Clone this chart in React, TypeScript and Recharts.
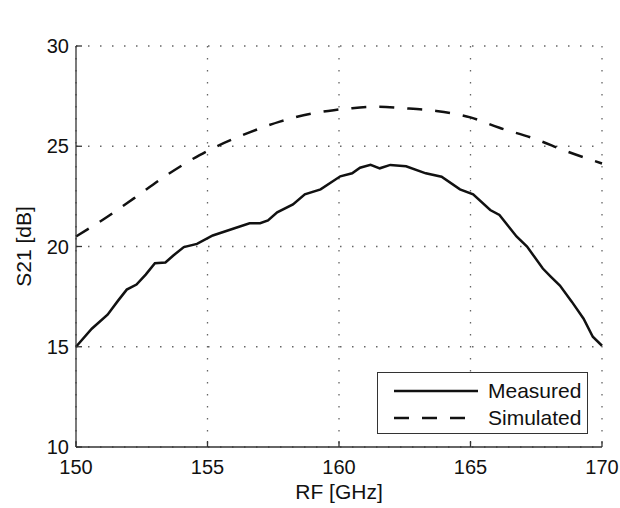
import { LineChart, Line, XAxis, YAxis, CartesianGrid, Legend, Label } from "recharts";

const xTicks = [150, 155, 160, 165, 170];
const yTicks = [10, 15, 20, 25, 30];

const measuredFreq = [
  150.0, 150.6, 151.2, 151.6, 151.93, 152.3, 152.65, 153.0, 153.4, 153.7, 154.1, 154.6, 155.2, 156.0,
  156.6, 157.0, 157.3, 157.65, 158.25, 158.7, 159.3, 160.05, 160.5, 160.8, 161.2, 161.55, 161.95,
  162.55, 163.3, 163.9, 164.6, 165.1, 165.75, 166.1, 166.75, 167.15, 167.75, 168.05, 168.4, 168.85,
  169.3, 169.65, 170.0,
];
const measuredGain = [
  15.0, 15.9, 16.6, 17.3, 17.85, 18.1, 18.6, 19.17, 19.2, 19.55, 19.97, 20.13, 20.55, 20.9,
  21.16, 21.16, 21.3, 21.7, 22.1, 22.6, 22.85, 23.5, 23.65, 23.93, 24.07, 23.9, 24.07,
  24.0, 23.65, 23.48, 22.85, 22.6, 21.82, 21.57, 20.5, 20.0, 18.9, 18.5, 18.05, 17.25,
  16.4, 15.5, 15.05,
];

const simFreq = [150.0, 151.05, 152.2, 153.45, 154.7, 155.2, 156.5, 157.75, 159.0, 159.8, 160.5, 161.5, 162.45, 163.7, 165.0, 166.1, 167.4, 168.65, 170.0];
const simGain = [20.5, 21.36, 22.4, 23.56, 24.56, 24.9, 25.64, 26.23, 26.64, 26.8, 26.9, 26.97, 26.9, 26.76, 26.44, 25.92, 25.39, 24.75, 24.14];

const measured = measuredFreq.map((freq, i) => ({ freq, gain: measuredGain[i] }));
const simulated = simFreq.map((freq, i) => ({ freq, gain: simGain[i] }));

const font = "'Liberation Sans', Arial, Helvetica, sans-serif";
const axisColor = "#333";

function LegendBox({ payload }: any) {
  return (
    <div
      style={{
        border: `1.5px solid ${axisColor}`,
        background: "#fff",
        width: "100%",
        height: "100%",
        boxSizing: "border-box",
        padding: "4px 0 0 16px",
        fontFamily: font,
        fontSize: 21,
        color: "#111",
      }}
    >
      {(payload || []).map((entry: any) => (
        <div key={entry.value} style={{ display: "flex", alignItems: "center", height: 27 }}>
          <svg width={94} height={10}>
            <line
              x1={0}
              y1={5}
              x2={84}
              y2={5}
              stroke="#111"
              strokeWidth={2.5}
              strokeDasharray={entry.payload?.strokeDasharray}
            />
          </svg>
          <span>{entry.value}</span>
        </div>
      ))}
    </div>
  );
}

export default function App() {
  return (
    <div style={{ position: "absolute", left: 0, top: 0, background: "#fff" }}>
      <LineChart width={620} height={508} margin={{ top: 46, right: 18, bottom: 9, left: 0 }}>
        <CartesianGrid stroke="#666" strokeWidth={1.3} strokeDasharray="1.5 10.5" />
        <XAxis
          dataKey="freq"
          type="number"
          domain={[150, 170]}
          ticks={xTicks}
          height={52}
          stroke={axisColor}
          strokeWidth={1.3}
          tickSize={-6}
          tickMargin={19}
          tick={{ fill: "#111", fontSize: 20, fontFamily: font }}
        >
          <Label value="RF [GHz]" position="insideBottom" offset={0} style={{ fill: "#111", fontSize: 21, fontFamily: font }} />
        </XAxis>
        <XAxis
          xAxisId="top"
          orientation="top"
          type="number"
          domain={[150, 170]}
          ticks={xTicks}
          height={0}
          stroke={axisColor}
          strokeWidth={1.3}
          tickSize={-6}
          tick={false}
        >
          <Label value="LNA Gain" position="top" offset={17} style={{ fill: "#111", fontSize: 21, fontFamily: font }} />
        </XAxis>
        <YAxis
          type="number"
          domain={[10, 30]}
          ticks={yTicks}
          width={76}
          stroke={axisColor}
          strokeWidth={1.3}
          tickSize={-6}
          tickMargin={13}
          tick={{ fill: "#111", fontSize: 20, fontFamily: font }}
        >
          <Label
            value="S21 [dB]"
            position="insideLeft"
            offset={24}
            angle={-90}
            style={{ fill: "#111", fontSize: 21, fontFamily: font, textAnchor: "middle" }}
          />
        </YAxis>
        <YAxis
          yAxisId="right"
          orientation="right"
          type="number"
          domain={[10, 30]}
          ticks={yTicks}
          width={0}
          stroke={axisColor}
          strokeWidth={1.3}
          tickSize={-6}
          tick={false}
        />
        <Line
          data={simulated}
          dataKey="gain"
          name="Simulated"
          type="monotone"
          stroke="#111"
          strokeWidth={2.5}
          strokeDasharray="15 13"
          dot={false}
          isAnimationActive={false}
        />
        <Line
          data={measured}
          dataKey="gain"
          name="Measured"
          type="linear"
          stroke="#111"
          strokeWidth={2.5}
          dot={false}
          isAnimationActive={false}
        />
        <Legend
          layout="vertical"
          align="center"
          verticalAlign="middle"
          itemSorter={(item: any) => (item.value === "Measured" ? 0 : 1)}
          content={<LegendBox />}
          wrapperStyle={{ left: 377, top: 372, width: 211, height: 62 }}
        />
      </LineChart>
    </div>
  );
}
